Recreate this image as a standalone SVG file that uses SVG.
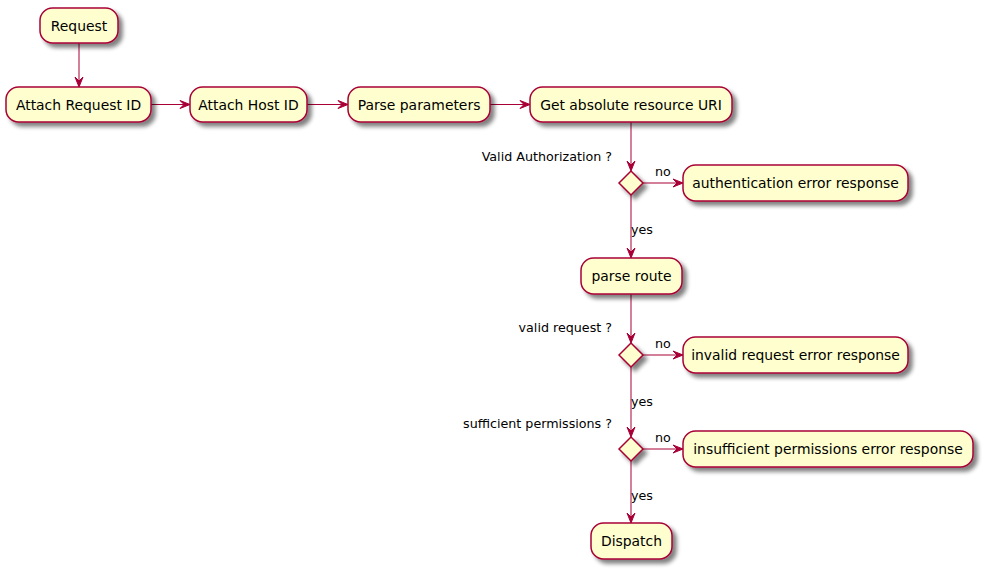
<svg xmlns="http://www.w3.org/2000/svg" width="989" height="570" viewBox="0 0 989 570">
<defs>
<filter id="sh" x="-20%" y="-20%" width="150%" height="170%">
<feGaussianBlur in="SourceAlpha" stdDeviation="2"/>
<feOffset dx="4" dy="4" result="b"/>
<feComponentTransfer><feFuncA type="linear" slope="0.5"/></feComponentTransfer>
<feMerge><feMergeNode/><feMergeNode in="SourceGraphic"/></feMerge>
</filter>
</defs>
<style>
.box{fill:#FEFECE;stroke:#A80036;stroke-width:1.5;filter:url(#sh)}
.t{font-family:"DejaVu Sans",sans-serif;font-size:13.9px;fill:#000;text-anchor:middle}
.l{font-family:"DejaVu Sans",sans-serif;font-size:12.7px;fill:#000}
.ln{stroke:#A80036;stroke-width:1;fill:none}
.ah{fill:#A80036;stroke:#A80036;stroke-width:1}
</style>
<g id="connectors">
<line class="ln" x1="79" y1="43" x2="79" y2="86"/>
<polygon class="ah" points="75,77 79,87 83,77 79,81"/>
<line class="ln" x1="151" y1="104.5" x2="189" y2="104.5"/>
<polygon class="ah" points="180,100.5 190,104.5 180,108.5 184,104.5"/>
<line class="ln" x1="307" y1="104.5" x2="347" y2="104.5"/>
<polygon class="ah" points="338,100.5 348,104.5 338,108.5 342,104.5"/>
<line class="ln" x1="490" y1="104.5" x2="529" y2="104.5"/>
<polygon class="ah" points="520,100.5 530,104.5 520,108.5 524,104.5"/>
<line class="ln" x1="631" y1="122" x2="631" y2="170"/>
<polygon class="ah" points="627,161 631,171 635,161 631,165"/>
<line class="ln" x1="643" y1="183" x2="682" y2="183"/>
<polygon class="ah" points="673,179 683,183 673,187 677,183"/>
<line class="ln" x1="631" y1="195" x2="631" y2="257"/>
<polygon class="ah" points="627,248 631,258 635,248 631,252"/>
<line class="ln" x1="631" y1="294" x2="631" y2="342"/>
<polygon class="ah" points="627,333 631,343 635,333 631,337"/>
<line class="ln" x1="643" y1="355" x2="682" y2="355"/>
<polygon class="ah" points="673,351 683,355 673,359 677,355"/>
<line class="ln" x1="631" y1="367" x2="631" y2="436"/>
<polygon class="ah" points="627,427 631,437 635,427 631,431"/>
<line class="ln" x1="643" y1="449" x2="682" y2="449"/>
<polygon class="ah" points="673,445 683,449 673,453 677,449"/>
<line class="ln" x1="631" y1="461" x2="631" y2="522"/>
<polygon class="ah" points="627,513 631,523 635,513 631,517"/>
<text class="l" x="655" y="176">no</text>
<text class="l" x="631" y="234">yes</text>
<text class="l" x="655" y="348">no</text>
<text class="l" x="631" y="406">yes</text>
<text class="l" x="655" y="442">no</text>
<text class="l" x="631" y="500">yes</text>
</g>
<g id="request"><rect class="box" x="40" y="8" width="78" height="35" rx="12.5"/><text class="t" x="79" y="31">Request</text></g>
<g id="attach-request-id"><rect class="box" x="6" y="87" width="145" height="35" rx="12.5"/><text class="t" x="78.5" y="110">Attach Request ID</text></g>
<g id="attach-host-id"><rect class="box" x="190" y="87" width="117" height="35" rx="12.5"/><text class="t" x="248.5" y="110">Attach Host ID</text></g>
<g id="parse-parameters"><rect class="box" x="348" y="87" width="142" height="35" rx="12.5"/><text class="t" x="419" y="110">Parse parameters</text></g>
<g id="get-uri"><rect class="box" x="530" y="87" width="202" height="35" rx="12.5"/><text class="t" x="631" y="110">Get absolute resource URI</text></g>
<g id="dec-auth"><polygon class="box" points="619,183 631,171 643,183 631,195"/><text class="l" x="612" y="161" text-anchor="end">Valid Authorization ?</text></g>
<g id="auth-error"><rect class="box" x="683" y="165" width="225" height="36" rx="12.5"/><text class="t" x="795.5" y="188">authentication error response</text></g>
<g id="parse-route"><rect class="box" x="581" y="258" width="101" height="36" rx="12.5"/><text class="t" x="631.5" y="281">parse route</text></g>
<g id="dec-valid"><polygon class="box" points="619,355 631,343 643,355 631,367"/><text class="l" x="612" y="332" text-anchor="end">valid request ?</text></g>
<g id="invalid-error"><rect class="box" x="683" y="337" width="225" height="36" rx="12.5"/><text class="t" x="795.5" y="360">invalid request error response</text></g>
<g id="dec-perm"><polygon class="box" points="619,449 631,437 643,449 631,461"/><text class="l" x="612" y="428" text-anchor="end">sufficient permissions ?</text></g>
<g id="perm-error"><rect class="box" x="683" y="431" width="290" height="36" rx="12.5"/><text class="t" x="828" y="454">insufficient permissions error response</text></g>
<g id="dispatch"><rect class="box" x="591" y="523" width="81" height="36" rx="12.5"/><text class="t" x="631.5" y="546">Dispatch</text></g>
</svg>
